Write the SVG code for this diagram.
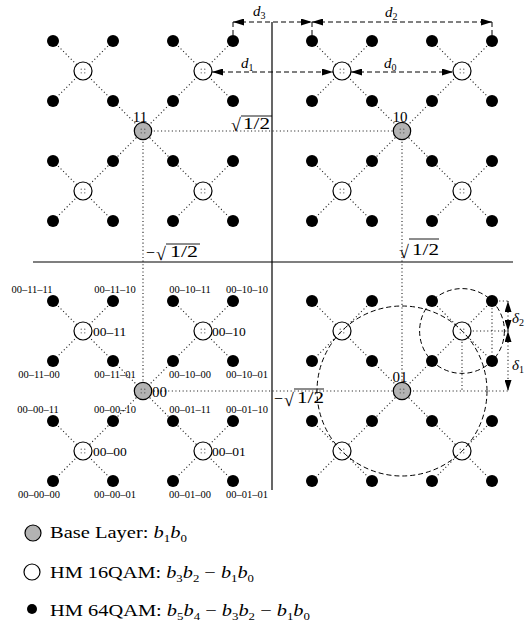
<svg xmlns="http://www.w3.org/2000/svg" width="531" height="631" viewBox="0 0 531 631">
<style>
.dt{stroke:#222;stroke-width:1.1;stroke-dasharray:1.1 2.5;fill:none}
.ds{stroke:#000;stroke-width:1;stroke-dasharray:5 3;fill:none}
.ax{stroke:#000;stroke-width:1.2}
.g{fill:#b3b3b3;stroke:#000;stroke-width:1.2}
.w{fill:#fff;stroke:#000;stroke-width:1.2}
.b{fill:#000}
.in{fill:#444}
text{font-family:"Liberation Serif","DejaVu Serif",serif;fill:#000}
.s{font-size:10.5px;text-anchor:middle}
.m{font-size:13.5px}
.n{font-size:15px}
.i{font-style:italic}
.lg{font-size:17.5px}
</style>
<defs>
<marker id="ah" viewBox="0 0 11 7" refX="11" refY="3.5" markerWidth="11" markerHeight="7" markerUnits="userSpaceOnUse" orient="auto-start-reverse"><path d="M0,0 L11,3.5 L0,7 z" fill="#000"/></marker>
<g id="wc"><circle r="9" class="w"/><circle cx="-1.8" cy="-1.8" r="0.6" class="in"/><circle cx="1.8" cy="-1.8" r="0.6" class="in"/><circle cx="-1.8" cy="1.8" r="0.6" class="in"/><circle cx="1.8" cy="1.8" r="0.6" class="in"/></g>
<g id="gc"><circle r="8.7" class="g"/><circle cx="-1.8" cy="-1.8" r="0.6" class="in"/><circle cx="1.8" cy="-1.8" r="0.6" class="in"/><circle cx="-1.8" cy="1.8" r="0.6" class="in"/><circle cx="1.8" cy="1.8" r="0.6" class="in"/></g>
</defs>
<rect width="531" height="631" fill="#fff"/>

<g id="axes">
<line x1="33" y1="262" x2="513" y2="262" class="ax"/>
<line x1="272" y1="22" x2="272" y2="490" class="ax"/>
</g>

<g id="connectors">
<line x1="53" y1="41" x2="233" y2="221" class="dt"/><line x1="233" y1="41" x2="53" y2="221" class="dt"/>
<line x1="113" y1="41" x2="53" y2="101" class="dt"/><line x1="173" y1="41" x2="233" y2="101" class="dt"/>
<line x1="53" y1="161" x2="113" y2="221" class="dt"/><line x1="233" y1="161" x2="173" y2="221" class="dt"/>
<line x1="312" y1="41" x2="492" y2="221" class="dt"/><line x1="492" y1="41" x2="312" y2="221" class="dt"/>
<line x1="372" y1="41" x2="312" y2="101" class="dt"/><line x1="432" y1="41" x2="492" y2="101" class="dt"/>
<line x1="312" y1="161" x2="372" y2="221" class="dt"/><line x1="492" y1="161" x2="432" y2="221" class="dt"/>
<line x1="53" y1="301" x2="233" y2="481" class="dt"/><line x1="233" y1="301" x2="53" y2="481" class="dt"/>
<line x1="113" y1="301" x2="53" y2="361" class="dt"/><line x1="173" y1="301" x2="233" y2="361" class="dt"/>
<line x1="53" y1="421" x2="113" y2="481" class="dt"/><line x1="233" y1="421" x2="173" y2="481" class="dt"/>
<line x1="312" y1="301" x2="492" y2="481" class="dt"/><line x1="492" y1="301" x2="312" y2="481" class="dt"/>
<line x1="372" y1="301" x2="312" y2="361" class="dt"/><line x1="432" y1="301" x2="492" y2="361" class="dt"/>
<line x1="312" y1="421" x2="372" y2="481" class="dt"/><line x1="492" y1="421" x2="432" y2="481" class="dt"/>
<line x1="143" y1="131" x2="402" y2="131" class="dt"/>
<line x1="143" y1="131" x2="143" y2="391" class="dt"/>
<line x1="402" y1="131" x2="402" y2="391" class="dt"/>
<line x1="143" y1="391" x2="508" y2="391" class="dt"/>
<line x1="462" y1="331" x2="462" y2="391" class="dt"/>
<line x1="462" y1="331" x2="508" y2="331" class="dt"/>
<line x1="492" y1="301" x2="508" y2="301" class="dt"/>
<line x1="492" y1="301" x2="492" y2="361" class="dt"/>
</g>

<g id="nodes">
<g id="g11"><use href="#gc" x="143" y="131"/><text x="140" y="122" class="n" text-anchor="middle">11</text></g>
<g id="g10"><use href="#gc" x="402" y="131"/><text x="400" y="122" class="n" text-anchor="middle">10</text></g>
<g id="g00"><use href="#gc" x="143" y="391"/><text x="152" y="397" class="n">00</text></g>
<g id="g01"><use href="#gc" x="402" y="391"/><text x="400" y="382" class="n" text-anchor="middle">01</text></g>

<g id="w11a"><use href="#wc" x="83" y="71"/></g>
<g id="w11b"><use href="#wc" x="203" y="71"/></g>
<g id="w11c"><use href="#wc" x="83" y="191"/></g>
<g id="w11d"><use href="#wc" x="203" y="191"/></g>
<g id="w10a"><use href="#wc" x="342" y="71"/></g>
<g id="w10b"><use href="#wc" x="462" y="71"/></g>
<g id="w10c"><use href="#wc" x="342" y="191"/></g>
<g id="w10d"><use href="#wc" x="462" y="191"/></g>
<g id="w00-11"><use href="#wc" x="83" y="331"/><text x="93" y="336" class="m">00–11</text></g>
<g id="w00-10"><use href="#wc" x="203" y="331"/><text x="212" y="336" class="m">00–10</text></g>
<g id="w00-00"><use href="#wc" x="83" y="451"/><text x="93" y="456" class="m">00–00</text></g>
<g id="w00-01"><use href="#wc" x="203" y="451"/><text x="212" y="456" class="m">00–01</text></g>
<g id="w01a"><use href="#wc" x="342" y="331"/></g>
<g id="w01b"><use href="#wc" x="462" y="331"/></g>
<g id="w01c"><use href="#wc" x="342" y="451"/></g>
<g id="w01d"><use href="#wc" x="462" y="451"/></g>

<g id="blk-tl" class="b">
<circle cx="53" cy="41" r="6"/><circle cx="113" cy="41" r="6"/><circle cx="173" cy="41" r="6"/><circle cx="233" cy="41" r="6"/>
<circle cx="53" cy="101" r="6"/><circle cx="113" cy="101" r="6"/><circle cx="173" cy="101" r="6"/><circle cx="233" cy="101" r="6"/>
<circle cx="53" cy="161" r="6"/><circle cx="113" cy="161" r="6"/><circle cx="173" cy="161" r="6"/><circle cx="233" cy="161" r="6"/>
<circle cx="53" cy="221" r="6"/><circle cx="113" cy="221" r="6"/><circle cx="173" cy="221" r="6"/><circle cx="233" cy="221" r="6"/>
</g>
<g id="blk-tr" class="b">
<circle cx="312" cy="41" r="6"/><circle cx="372" cy="41" r="6"/><circle cx="432" cy="41" r="6"/><circle cx="492" cy="41" r="6"/>
<circle cx="312" cy="101" r="6"/><circle cx="372" cy="101" r="6"/><circle cx="432" cy="101" r="6"/><circle cx="492" cy="101" r="6"/>
<circle cx="312" cy="161" r="6"/><circle cx="372" cy="161" r="6"/><circle cx="432" cy="161" r="6"/><circle cx="492" cy="161" r="6"/>
<circle cx="312" cy="221" r="6"/><circle cx="372" cy="221" r="6"/><circle cx="432" cy="221" r="6"/><circle cx="492" cy="221" r="6"/>
</g>
<g id="blk-bl">
<g id="b00-11-11"><circle cx="53" cy="301" r="6" class="b"/><text x="32" y="293" class="s">00–11–11</text></g>
<g id="b00-11-10"><circle cx="113" cy="301" r="6" class="b"/><text x="115" y="293" class="s">00–11–10</text></g>
<g id="b00-10-11"><circle cx="173" cy="301" r="6" class="b"/><text x="190" y="293" class="s">00–10–11</text></g>
<g id="b00-10-10"><circle cx="233" cy="301" r="6" class="b"/><text x="247" y="293" class="s">00–10–10</text></g>
<g id="b00-11-00"><circle cx="53" cy="361" r="6" class="b"/><text x="39" y="378" class="s">00–11–00</text></g>
<g id="b00-11-01"><circle cx="113" cy="361" r="6" class="b"/><text x="115" y="378" class="s">00–11–01</text></g>
<g id="b00-10-00"><circle cx="173" cy="361" r="6" class="b"/><text x="190" y="378" class="s">00–10–00</text></g>
<g id="b00-10-01"><circle cx="233" cy="361" r="6" class="b"/><text x="247" y="378" class="s">00–10–01</text></g>
<g id="b00-00-11"><circle cx="53" cy="421" r="6" class="b"/><text x="38" y="413" class="s">00–00–11</text></g>
<g id="b00-00-10"><circle cx="113" cy="421" r="6" class="b"/><text x="115" y="413" class="s">00–00–10</text></g>
<g id="b00-01-11"><circle cx="173" cy="421" r="6" class="b"/><text x="190" y="413" class="s">00–01–11</text></g>
<g id="b00-01-10"><circle cx="233" cy="421" r="6" class="b"/><text x="247" y="413" class="s">00–01–10</text></g>
<g id="b00-00-00"><circle cx="53" cy="481" r="6" class="b"/><text x="39" y="498" class="s">00–00–00</text></g>
<g id="b00-00-01"><circle cx="113" cy="481" r="6" class="b"/><text x="115" y="498" class="s">00–00–01</text></g>
<g id="b00-01-00"><circle cx="173" cy="481" r="6" class="b"/><text x="190" y="498" class="s">00–01–00</text></g>
<g id="b00-01-01"><circle cx="233" cy="481" r="6" class="b"/><text x="247" y="498" class="s">00–01–01</text></g>
</g>
<g id="blk-br" class="b">
<circle cx="312" cy="301" r="6"/><circle cx="372" cy="301" r="6"/><circle cx="432" cy="301" r="6"/><circle cx="492" cy="301" r="6"/>
<circle cx="312" cy="361" r="6"/><circle cx="372" cy="361" r="6"/><circle cx="432" cy="361" r="6"/><circle cx="492" cy="361" r="6"/>
<circle cx="312" cy="421" r="6"/><circle cx="372" cy="421" r="6"/><circle cx="432" cy="421" r="6"/><circle cx="492" cy="421" r="6"/>
<circle cx="312" cy="481" r="6"/><circle cx="372" cy="481" r="6"/><circle cx="432" cy="481" r="6"/><circle cx="492" cy="481" r="6"/>
</g>
</g>

<g id="annotations">
<circle cx="402" cy="391" r="85" class="ds"/>
<circle cx="462" cy="331" r="42.4" class="ds"/>
<line x1="233" y1="22" x2="312" y2="22" class="ds" marker-start="url(#ah)" marker-end="url(#ah)"/>
<line x1="312" y1="22" x2="492" y2="22" class="ds" marker-start="url(#ah)" marker-end="url(#ah)"/>
<line x1="233" y1="22" x2="233" y2="35" class="ds"/>
<line x1="312" y1="22" x2="312" y2="35" class="ds"/>
<line x1="492" y1="22" x2="492" y2="35" class="ds"/>
<line x1="212" y1="72" x2="333" y2="72" class="ds" marker-start="url(#ah)" marker-end="url(#ah)"/>
<line x1="351" y1="72" x2="453" y2="72" class="ds" marker-start="url(#ah)" marker-end="url(#ah)"/>
<text x="253" y="16" class="n i">d<tspan font-size="10" dy="3" font-style="normal">3</tspan></text>
<text x="385" y="17" class="n i">d<tspan font-size="10" dy="3" font-style="normal">2</tspan></text>
<text x="241" y="68" class="n i">d<tspan font-size="10" dy="3" font-style="normal">1</tspan></text>
<text x="384" y="68" class="n i">d<tspan font-size="10" dy="3" font-style="normal">0</tspan></text>
<line x1="508" y1="301" x2="508" y2="331" class="dt" marker-start="url(#ah)" marker-end="url(#ah)"/>
<line x1="508" y1="331" x2="508" y2="391" class="dt" marker-start="url(#ah)" marker-end="url(#ah)"/>
<text x="512" y="323" class="n i">δ<tspan font-size="10" dy="3" font-style="normal">2</tspan></text>
<text x="512" y="370" class="n i">δ<tspan font-size="10" dy="3" font-style="normal">1</tspan></text>
<text x="231" y="131" font-size="18">√</text><line x1="241" y1="116" x2="272" y2="116" stroke="#000" stroke-width="0.9"/><text x="243" y="129" font-size="16" textLength="27" lengthAdjust="spacingAndGlyphs">1/2</text>
<text x="146" y="258" font-size="16">−</text><text x="156" y="260" font-size="18">√</text><line x1="166" y1="244" x2="200" y2="244" stroke="#000" stroke-width="0.9"/><text x="170" y="257" font-size="16" textLength="28" lengthAdjust="spacingAndGlyphs">1/2</text>
<text x="399" y="258" font-size="18">√</text><line x1="409" y1="239" x2="439" y2="239" stroke="#000" stroke-width="0.9"/><text x="412" y="255" font-size="16" textLength="27" lengthAdjust="spacingAndGlyphs">1/2</text>
<text x="274" y="404" font-size="16">−</text><text x="284" y="406" font-size="18">√</text><line x1="294" y1="389" x2="324" y2="389" stroke="#000" stroke-width="0.9"/><text x="297" y="403" font-size="16" textLength="27" lengthAdjust="spacingAndGlyphs">1/2</text>
</g>

<g id="legend">
<g id="lg-base"><circle cx="33" cy="533" r="8" class="g"/><text x="50" y="538" class="lg" textLength="137" lengthAdjust="spacingAndGlyphs">Base Layer:  <tspan class="i">b</tspan><tspan font-size="11" dy="4">1</tspan><tspan class="i" dy="-4">b</tspan><tspan font-size="11" dy="4">0</tspan></text></g>
<g id="lg-16"><circle cx="32" cy="572" r="8" class="w"/><text x="50" y="578" class="lg" textLength="204" lengthAdjust="spacingAndGlyphs">HM 16QAM: <tspan class="i">b</tspan><tspan font-size="11" dy="4">3</tspan><tspan class="i" dy="-4">b</tspan><tspan font-size="11" dy="4">2</tspan><tspan dy="-4"> − </tspan><tspan class="i">b</tspan><tspan font-size="11" dy="4">1</tspan><tspan class="i" dy="-4">b</tspan><tspan font-size="11" dy="4">0</tspan></text></g>
<g id="lg-64"><circle cx="32" cy="609" r="5" class="b"/><text x="50" y="616" class="lg" textLength="260" lengthAdjust="spacingAndGlyphs">HM 64QAM: <tspan class="i">b</tspan><tspan font-size="11" dy="4">5</tspan><tspan class="i" dy="-4">b</tspan><tspan font-size="11" dy="4">4</tspan><tspan dy="-4"> − </tspan><tspan class="i">b</tspan><tspan font-size="11" dy="4">3</tspan><tspan class="i" dy="-4">b</tspan><tspan font-size="11" dy="4">2</tspan><tspan dy="-4"> − </tspan><tspan class="i">b</tspan><tspan font-size="11" dy="4">1</tspan><tspan class="i" dy="-4">b</tspan><tspan font-size="11" dy="4">0</tspan></text></g>
</g>
</svg>
